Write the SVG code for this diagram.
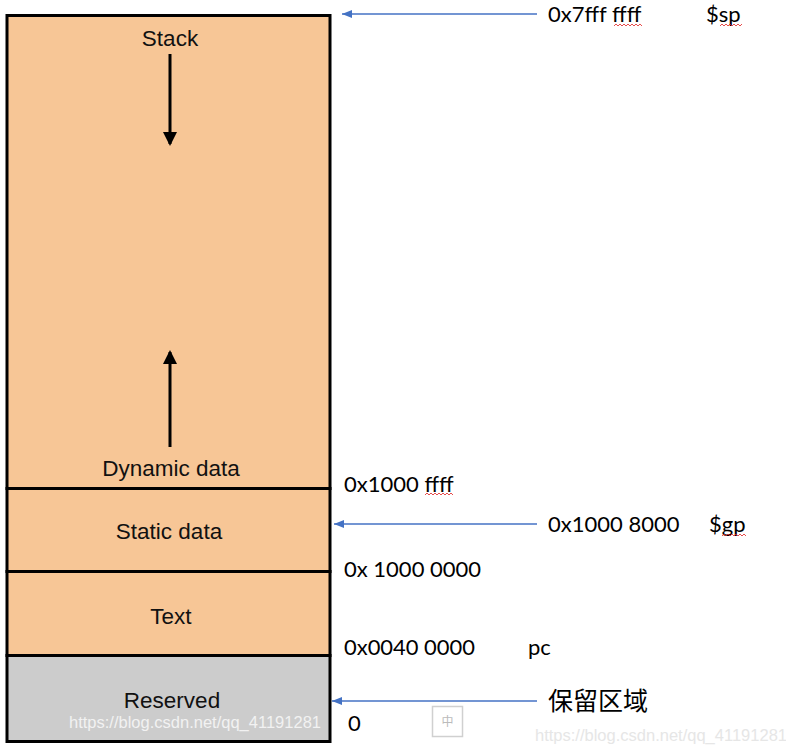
<svg xmlns="http://www.w3.org/2000/svg" width="786" height="754" viewBox="0 0 786 754">
<style>
.seg{stroke:#000;stroke-width:3}
.lbl{font-family:"Liberation Sans",Arial,sans-serif;font-size:22.5px;fill:#111;text-anchor:middle}
.addr{font-family:Lato,"Open Sans",sans-serif;font-size:22px;fill:#000}
.blue{stroke:#4472c4;stroke-width:1.3;fill:none}
.blk{stroke:#000;stroke-width:3;fill:none}
.sq{stroke:#e02020;stroke-width:0.8;fill:none}
.wm{font-family:"Liberation Sans",Arial,sans-serif;font-size:16.5px;fill:#e6e6e6}
</style>
<defs>
<marker id="ba" markerWidth="11" markerHeight="9" refX="10" refY="4.5" orient="auto" markerUnits="userSpaceOnUse">
<path d="M0,0.5 L10,4.5 L0,8.5 Z" fill="#4472c4"/>
</marker>
<marker id="ka" markerWidth="14" markerHeight="14" refX="12" refY="7" orient="auto" markerUnits="userSpaceOnUse">
<path d="M0,0 L14,7 L0,14 Z" fill="#000"/>
</marker>
</defs>
<g id="stack">
<rect class="seg" x="7" y="15.5" width="323" height="473" fill="#f7c696"/>
<text class="lbl" x="170" y="46">Stack</text>
<text class="lbl" x="171" y="476">Dynamic data</text>
</g>
<g id="static">
<rect class="seg" x="7" y="488.5" width="323" height="83" fill="#f7c696"/>
<text class="lbl" x="169" y="539">Static data</text>
</g>
<g id="text">
<rect class="seg" x="7" y="571.5" width="323" height="84" fill="#f7c696"/>
<text class="lbl" x="171" y="624">Text</text>
</g>
<g id="reserved">
<rect class="seg" x="7" y="655.5" width="323" height="86" fill="#cccccc"/>
<text class="lbl" x="172" y="708">Reserved</text>
</g>
<g id="connectors">
<line class="blk" x1="170" y1="54" x2="170" y2="144" marker-end="url(#ka)"/>
<line class="blk" x1="170" y1="447" x2="170" y2="352" marker-end="url(#ka)"/>
<line class="blue" x1="537" y1="14" x2="342" y2="14" marker-end="url(#ba)"/>
<line class="blue" x1="537" y1="524" x2="334" y2="524" marker-end="url(#ba)"/>
<line class="blue" x1="537" y1="701" x2="332" y2="701" marker-end="url(#ba)"/>
</g>
<g id="labels">
<text class="addr" x="548" y="22">0x7fff ffff</text>
<text class="addr" x="706" y="22">$sp</text>
<text class="addr" x="344" y="492">0x1000 ffff</text>
<text class="addr" x="548" y="532">0x1000 8000</text>
<text class="addr" x="709" y="532">$gp</text>
<text class="addr" x="344" y="577">0x 1000 0000</text>
<text class="addr" x="344" y="655" textLength="131" lengthAdjust="spacingAndGlyphs">0x0040 0000</text>
<text class="addr" x="528" y="655">pc</text>
<text x="548" y="710" style="font-family:'Noto Sans CJK SC',sans-serif;font-size:25px;fill:#000">保留区域</text>
<text class="addr" x="348" y="731">0</text>
<path class="sq" d="M614,26 l2,-2 l2,2 l2,-2 l2,2 l2,-2 l2,2 l2,-2 l2,2 l2,-2 l2,2 l2,-2 l2,2 l2,-2 l2,2"/>
<path class="sq" d="M720,26 l2,-2 l2,2 l2,-2 l2,2 l2,-2 l2,2 l2,-2 l2,2 l2,-2 l2,2 l2,-2"/>
<path class="sq" d="M425,495 l2,-2 l2,2 l2,-2 l2,2 l2,-2 l2,2 l2,-2 l2,2 l2,-2 l2,2 l2,-2 l2,2 l2,-2 l2,2"/>
<path class="sq" d="M722,536 l2,-2 l2,2 l2,-2 l2,2 l2,-2 l2,2 l2,-2 l2,2 l2,-2 l2,2 l2,-2 l2,2"/>
<rect x="432.5" y="706.5" width="30" height="30" fill="#fff" stroke="#d0d0d0" stroke-width="1.5"/>
<text x="447.5" y="726" text-anchor="middle" style="font-family:'Noto Sans CJK SC',sans-serif;font-size:12px;fill:#bbb">中</text>
<text class="wm" x="69" y="728" style="fill:#f2f2f2">https://blog.csdn.net/qq_41191281</text>
<text class="wm" x="535" y="741">https://blog.csdn.net/qq_41191281</text>
</g>
</svg>
